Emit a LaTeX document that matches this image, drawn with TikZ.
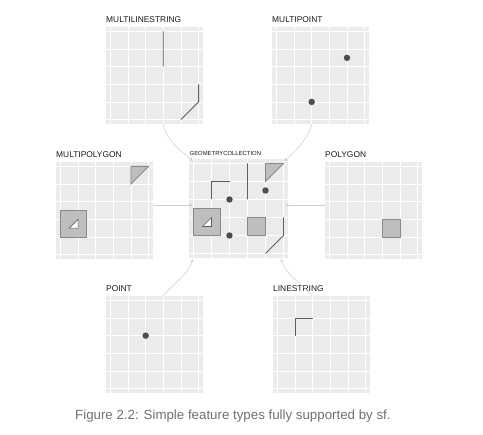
\documentclass[tikz,border=0pt]{standalone}
\usepackage{fontspec}
\setmainfont{Liberation Sans}
\usetikzlibrary{arrows.meta,positioning,calc}
\definecolor{PanelBg}{HTML}{EBEBEB}
\definecolor{GeomFill}{HTML}{BEBEBE}
\definecolor{GeomEdge}{HTML}{8A8A8A}
\definecolor{Ink}{HTML}{4D4D4D}
\definecolor{LineInk}{HTML}{5E5E5E}
\definecolor{Link}{HTML}{CDCDCD}
\definecolor{TitleInk}{HTML}{1A1A1A}
\definecolor{CaptionInk}{HTML}{707070}

% geometries in data units (grid 0..5)
\newcommand{\drawPOINT}{\fill[geompoint] (2,3) circle[radius=3.2pt];}
\newcommand{\drawMULTIPOINT}{\fill[geompoint] (4,3.5) circle[radius=3.2pt] (2,1) circle[radius=3.2pt];}
\newcommand{\drawLINESTRING}{\draw[geomline] (1,3) -- (1,4) -- (2,4);}
\newcommand{\drawMULTILINESTRING}{\draw[geomline] (3,5) -- (3,3) (4,0) -- (5,1) -- (5,2);}
\newcommand{\drawPOLYGON}{\draw[geompoly] (3,1) rectangle (4,2);}
\newcommand{\drawMULTIPOLYGON}{%
  \draw[geompoly] (0,1) rectangle (1.5,2.5);
  \draw[geomhole] (0.5,1.5) -- (1,1.5) -- (1,2) -- cycle;
  \draw[geompoly] (4,4) -- (4,5) -- (5,5) -- cycle;}

\begin{document}
\begin{tikzpicture}[x=1pt,y=1pt,
  panel/.style={rectangle,fill=PanelBg,inner sep=0pt,outer sep=0pt,anchor=north west,minimum width=#1,minimum height=#1},
  panel/.default=97pt,
  paneltitle/.style={inner sep=0pt,text=TitleInk,font=\fontsize{8.4}{10}\selectfont},
  gridline/.style={draw=white,line width=0.7pt},
  onpanel/.style 2 args={shift={(#1.south west)},x=#2,y=#2,shift={(0.25,0.25)}},
  geomline/.style={draw=LineInk,line width=0.8pt},
  geompoly/.style={draw=GeomEdge,fill=GeomFill,line width=0.8pt},
  geomhole/.style={draw=LineInk,fill=white,line width=0.6pt},
  geompoint/.style={fill=Ink},
  link/.style={draw=Link,line width=0.5pt,-{Stealth[length=3.5pt,width=3pt]}},
  caption/.style={inner sep=0pt,text=CaptionInk,font=\fontsize{13.3}{15}\selectfont}
]
\useasboundingbox (0,0) rectangle (483,435);

% panels with titles and grids
\foreach \nm/\px/\py/\ttl in {ml/106/408/MULTILINESTRING,mpt/272/408/MULTIPOINT,mpoly/56/273/MULTIPOLYGON,poly/325/273/POLYGON,pt/106/139/POINT,ls/273/139/LINESTRING}{
  \node[panel] (\nm) at (\px,\py) {};
  \node[paneltitle,above right=4pt and 0pt of \nm.north west] (\nm-title) {\ttl};
  \begin{scope}[onpanel={\nm}{17.64pt}]
    \foreach \k in {0,...,5}{
      \draw[gridline] (\k,-0.25) -- (\k,5.25);
      \draw[gridline] (-0.25,\k) -- (5.25,\k);
    }
  \end{scope}
}
\node[panel=99pt] (gc) at (189,276) {};
\node[paneltitle,font=\fontsize{5.9}{7}\selectfont,above right=3.5pt and 0.5pt of gc.north west] (gc-title) {GEOMETRYCOLLECTION};
\begin{scope}[onpanel={gc}{18pt}]
  \foreach \k in {0,...,5}{
    \draw[gridline] (\k,-0.25) -- (\k,5.25);
    \draw[gridline] (-0.25,\k) -- (5.25,\k);
  }
\end{scope}

% panel contents
\begin{scope}[onpanel={ml}{17.64pt}] \drawMULTILINESTRING \end{scope}
\begin{scope}[onpanel={mpt}{17.64pt}] \drawMULTIPOINT \end{scope}
\begin{scope}[onpanel={mpoly}{17.64pt}] \drawMULTIPOLYGON \end{scope}
\begin{scope}[onpanel={poly}{17.64pt}] \drawPOLYGON \end{scope}
\begin{scope}[onpanel={pt}{17.64pt}] \drawPOINT \end{scope}
\begin{scope}[onpanel={ls}{17.64pt}] \drawLINESTRING \end{scope}
\begin{scope}[onpanel={gc}{18pt}]
  \drawMULTIPOLYGON
  \drawPOLYGON
  \drawMULTILINESTRING
  \drawLINESTRING
  \drawMULTIPOINT
  \drawPOINT
\end{scope}

% links into the collection
\coordinate (midrow) at (0,230);
\draw[link] ([xshift=8.5pt]ml.south) to[out=-75,in=140] ([shift={(4pt,-2pt)}]gc.north west);
\draw[link] ([xshift=-8.5pt]mpt.south) to[out=-110,in=40] ([shift={(-4pt,-2pt)}]gc.north east);
\draw[link] (mpoly.east |- midrow) -- ($(gc.west |- midrow)+(4pt,0)$);
\draw[link] (poly.west |- midrow) -- ($(gc.east |- midrow)+(-3pt,0)$);
\draw[link] ([xshift=8.5pt]pt.north) to[out=50,in=-110] ([shift={(4pt,-1pt)}]gc.south west);
\draw[link] ([xshift=-9.5pt]ls.north) to[out=130,in=-70] ([shift={(-7pt,-1pt)}]gc.south east);

\node[caption,anchor=west] (cap) at (75,19) {Figure 2.2: Simple feature types fully supported by sf.};
\end{tikzpicture}
\end{document}
